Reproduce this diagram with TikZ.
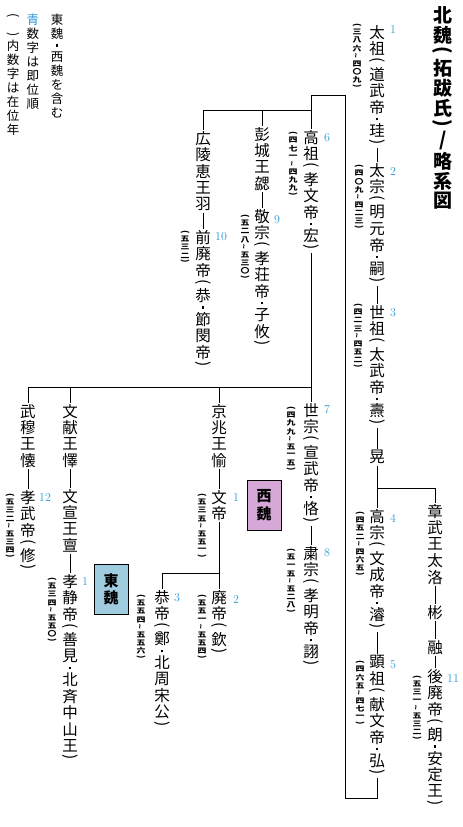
\documentclass[tikz,border=0pt]{standalone}
\usepackage{fontspec}
\usepackage{graphicx}
\newfontfamily\jp{Noto Sans CJK JP}
\usetikzlibrary{calc}
\definecolor{numblue}{RGB}{45,155,215}
\definecolor{westc}{RGB}{214,168,216}
\definecolor{eastc}{RGB}{160,204,224}

\newdimen\vF \newdimen\vP \newdimen\vD \newdimen\vW \newdimen\vS \newdimen\vK
\def\vtfmt#1{#1}
\def\vtend{\vtend}
\def\vt#1{\vbox{\offinterlineskip\vtloop#1\vtend}}
\def\vtloop#1{\ifx#1\vtend\else\vtcell#1\expandafter\vtloop\fi}
\def\vtbox#1#2{\hbox to\vW{\hss\vbox to#1{\vss\hbox{#2}\vss}\hss}}
\def\vtcell#1{%
 \ifx#1(\vtbox\vP{\rotatebox[origin=c]{-90}{(}}\else
 \ifx#1)\vtbox\vP{\rotatebox[origin=c]{-90}{)}}\else
 \ifx#1・\vtbox\vD{\vrule width\vK height\vK depth 0pt}\else
 \ifx#1～\vtbox\vD{\rotatebox[origin=c]{90}{\vtfmt{\char"7E}}}\else
 \ifx#1*\vtbox\vS{}\else
 \vtbox\vF{\vtfmt{#1}}%
 \fi\fi\fi\fi\fi}

\def\nmset{\jp\fontsize{15.5}{17}\selectfont\vF=16.5pt\vP=9pt\vD=7pt\vK=2.8pt\vW=17pt\def\vtfmt##1{##1}}
\def\dtset{\jp\bfseries\fontsize{8.5}{9}\selectfont\vF=8.2pt\vP=5pt\vD=7pt\vK=1.5pt\vW=10pt\def\vtfmt##1{\scalebox{1.05}[0.85]{##1}}}
\def\lgset{\jp\fontsize{12.5}{14}\selectfont\vF=14pt\vP=7pt\vD=9pt\vK=2.4pt\vS=12pt\vW=14pt\def\vtfmt##1{##1}}
\def\ttset{\jp\bfseries\fontsize{19}{20}\selectfont\vF=20pt\vP=13pt\vD=10pt\vK=3pt\vW=20pt\def\vtfmt##1{##1}}
\def\bxset{\jp\bfseries\fontsize{15}{17}\selectfont\vF=17pt\vP=10pt\vD=8pt\vK=2.8pt\vW=17pt\def\vtfmt##1{##1}}

\tikzset{
  nm/.style={inner sep=0pt, outer sep=0pt, anchor=north, font=\nmset},
  dt/.style={inner sep=0pt, outer sep=0pt, anchor=north, font=\dtset},
  lg/.style={inner sep=0pt, outer sep=0pt, anchor=north, font=\lgset},
  tt/.style={inner sep=0pt, outer sep=0pt, anchor=north, font=\ttset},
  num/.style={inner sep=0pt, text=numblue, font=\fontsize{12}{12}\selectfont},
  link/.style={draw, line width=0.8pt},
  dyn/.style={draw, line width=0.8pt, minimum width=34pt, minimum height=50pt, inner sep=0pt, font=\bxset},
}

\begin{document}
\begin{tikzpicture}[x=1pt,y=-1pt]
\useasboundingbox[fill=white] (0,0) rectangle (463,827);

% title and legend
\node[tt] (title) at (443,5) {\vt{北魏(拓跋氏)/略系図}};
\node[lg] (lg1) at (57,13) {\vt{東魏・西魏を含む}};
\node[lg,text=numblue] (lg2a) at (33,13) {\vt{青}};
\node[lg] (lg2b) at (lg2a.south) {\vt{数字は即位順}};
\node[lg] (lg3) at (13,13) {\vt{(*)内数字は在位年}};

% names
\node[nm] (taiso)   at (377,24)  {\vt{太祖(道武帝・珪)}};
\node[nm] (taiso2)  at (377,162) {\vt{太宗(明元帝・嗣)}};
\node[nm] (seiso)   at (377,304) {\vt{世祖(太武帝・燾)}};
\node[nm] (ko)      at (377,449) {\vt{晃}};
\node[nm] (kosou)   at (377,508) {\vt{高宗(文成帝・濬)}};
\node[nm] (kenso)   at (377,654) {\vt{顕祖(献文帝・弘)}};
\node[nm] (shobu)   at (435,503) {\vt{章武王太洛}};
\node[nm] (hin)     at (435,604) {\vt{彬}};
\node[nm] (yu)      at (435,639) {\vt{融}};
\node[nm] (gohai)   at (435,668) {\vt{後廃帝(朗・安定王)}};
\node[nm] (koso)    at (311,129) {\vt{高祖(孝文帝・宏)}};
\node[nm] (seiso2)  at (311,402) {\vt{世宗(宣武帝・恪)}};
\node[nm] (shukuso) at (311,545) {\vt{粛宗(孝明帝・詡)}};
\node[nm] (hojo)    at (262,126) {\vt{彭城王勰}};
\node[nm] (keiso)   at (262,208) {\vt{敬宗(孝荘帝・子攸)}};
\node[nm] (koryo)   at (203,130) {\vt{広陵恵王羽}};
\node[nm] (zenhai)  at (203,229) {\vt{前廃帝(恭・節閔帝)}};
\node[nm] (keicho)  at (219,403) {\vt{京兆王愉}};
\node[nm] (buntei)  at (219,489) {\vt{文帝}};
\node[nm] (haitei)  at (219,589) {\vt{廃帝(欽)}};
\node[nm] (kyotei)  at (162,589) {\vt{恭帝(鄭・北周宋公)}};
\node[nm] (bunken)  at (70,403)  {\vt{文献王懌}};
\node[nm] (bunsen)  at (70,488)  {\vt{文宣王亶}};
\node[nm] (koseitei) at (70,573) {\vt{孝静帝(善見・北斉中山王)}};
\node[nm] (buboku)  at (28,403)  {\vt{武穆王懐}};
\node[nm] (kobu)    at (28,489)  {\vt{孝武帝(修)}};

% dynasty boxes
\node[dyn, fill=westc] (seigi) at (264,505) {\vt{西魏}};
\node[dyn, fill=eastc] (togi)  at (111,589) {\vt{東魏}};

% reign years
\node[dt] (d1)  at (357,23)  {\vt{(三八六～四〇九)}};
\node[dt] (d2)  at (359,164) {\vt{(四〇九～四二三)}};
\node[dt] (d3)  at (358,303) {\vt{(四二三～四五二)}};
\node[dt] (d4)  at (360,511) {\vt{(四五二～四六五)}};
\node[dt] (d5)  at (360,660) {\vt{(四六五～四七一)}};
\node[dt] (d6)  at (293,131) {\vt{(四七一～四九九)}};
\node[dt] (d7)  at (291,406) {\vt{(四九九～五一五)}};
\node[dt] (d8)  at (291,548) {\vt{(五一五～五二八)}};
\node[dt] (d9)  at (245,214) {\vt{(五二八～五三〇)}};
\node[dt] (d10) at (185,230) {\vt{(五三二)}};
\node[dt] (d11) at (417,675) {\vt{(五三一～五三二)}};
\node[dt] (d12) at (10,493)  {\vt{(五三二～五三四)}};
\node[dt] (dw1) at (202,493) {\vt{(五三五～五五一)}};
\node[dt] (dw2) at (202,594) {\vt{(五五一～五五四)}};
\node[dt] (dw3) at (141,594) {\vt{(五五四～五五六)}};
\node[dt] (de1) at (52,577)  {\vt{(五三四～五五〇)}};

% accession numbers
\node[num] (n1)  at (393,30)  {1};
\node[num] (n2)  at (393,172) {2};
\node[num] (n3)  at (393,313) {3};
\node[num] (n4)  at (393,518) {4};
\node[num] (n5)  at (393,665) {5};
\node[num] (n6)  at (327,138) {6};
\node[num] (n7)  at (327,410) {7};
\node[num] (n8)  at (327,553) {8};
\node[num] (n9)  at (277,220) {9};
\node[num] (n10) at (221,237) {10};
\node[num] (n11) at (453,679) {11};
\node[num] (n12) at (45,498)  {12};
\node[num] (nw1) at (236,498) {1};
\node[num] (nw2) at (236,600) {2};
\node[num] (nw3) at (177,598) {3};
\node[num] (ne1) at (85,582)  {1};

% junctions
\coordinate (j1) at (377,488);
\coordinate (j2) at (345,798);
\coordinate (j3) at (345,95);
\coordinate (j4) at (311,110);
\coordinate (j5) at (311,387);
\coordinate (j6) at (219,573);

% connectors
\draw[link] (taiso.south) -- (taiso2.north);
\draw[link] (taiso2.south) -- (seiso.north);
\draw[link] (seiso.south) -- (ko.north);
\draw[link] (ko.south) -- (kosou.north);
\draw[link] (j1) -| (shobu.north);
\draw[link] (shobu.south) -- (hin.north);
\draw[link] (hin.south) -- (yu.north);
\draw[link] (yu.south) -- (gohai.north);
\draw[link] (kosou.south) -- (kenso.north);
\draw[link] (kenso.south) |- (j2) -- (j3) -| (koso.north);
\draw[link] (j4) -| (koryo.north);
\draw[link] (j4 -| hojo.north) -- (hojo.north);
\draw[link] (hojo.south) -- (keiso.north);
\draw[link] (koryo.south) -- (zenhai.north);
\draw[link] (koso.south) -- (seiso2.north);
\draw[link] (seiso2.south) -- (shukuso.north);
\draw[link] (j5) -| (buboku.north);
\draw[link] (j5 -| keicho.north) -- (keicho.north);
\draw[link] (j5 -| bunken.north) -- (bunken.north);
\draw[link] (keicho.south) -- (buntei.north);
\draw[link] (buntei.south) -- (haitei.north);
\draw[link] (j6) -| (kyotei.north);
\draw[link] (bunken.south) -- (bunsen.north);
\draw[link] (bunsen.south) -- (koseitei.north);
\draw[link] (buboku.south) -- (kobu.north);
\end{tikzpicture}
\end{document}
